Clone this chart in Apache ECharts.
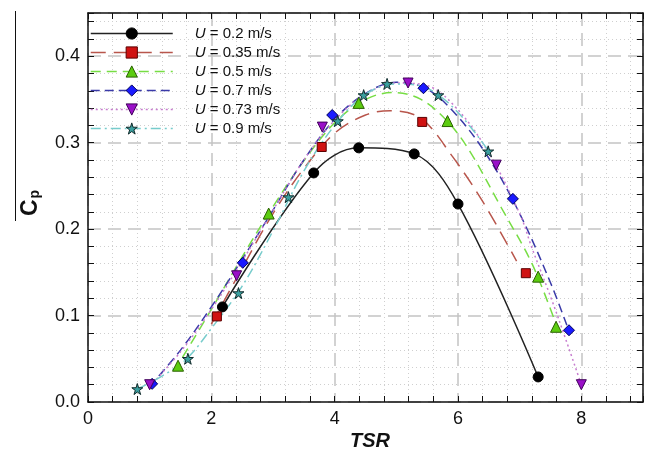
<!DOCTYPE html>
<html>
<head>
<meta charset="utf-8">
<script src="https://cdn.jsdelivr.net/npm/echarts@6/dist/echarts.min.js"></script>
<style>html,body{margin:0;padding:0;background:#fff;}#c{width:649px;height:452px;}</style>
</head>
<body>
<div id="c"></div>
<script>
// ---- Data ----
const seriesNames = ['U = 0.2 m/s', 'U = 0.35 m/s', 'U = 0.5 m/s', 'U = 0.7 m/s', 'U = 0.73 m/s', 'U = 0.9 m/s'];
const xTickLabels = ['0', '2', '4', '6', '8'];
const yTickLabels = ['0.0', '0.1', '0.2', '0.3', '0.4'];

// measured points (markers)
const tsr02 = [2.18, 3.66, 4.39, 5.29, 6.0, 7.3];
const cp02  = [0.110, 0.265, 0.294, 0.287, 0.229, 0.029];
const tsr035 = [2.09, 3.79, 5.42, 7.1];
const cp035  = [0.099, 0.295, 0.324, 0.149];
const tsr05 = [1.46, 2.93, 4.39, 5.83, 7.3, 7.59];
const cp05  = [0.042, 0.218, 0.346, 0.325, 0.145, 0.087];
const tsr07 = [1.04, 2.51, 3.96, 5.44, 6.89, 7.8];
const cp07  = [0.021, 0.161, 0.332, 0.363, 0.235, 0.083];
const tsr073 = [1.0, 2.41, 3.80, 5.19, 6.62, 8.0];
const cp073  = [0.020, 0.146, 0.318, 0.369, 0.274, 0.020];
const tsr09 = [0.8, 1.62, 2.44, 3.25, 4.05, 4.47, 4.85, 5.68, 6.49];
const cp09  = [0.015, 0.050, 0.126, 0.237, 0.325, 0.355, 0.368, 0.355, 0.290];

// fitted curves
const fitX035 = [2.0, 2.5, 3.0, 3.5, 4.0, 4.5, 4.9, 5.4, 5.9, 6.4, 6.95];
const fitY035 = [0.090, 0.155, 0.218, 0.270, 0.311, 0.332, 0.337, 0.328, 0.285, 0.232, 0.163];
const fitX05 = [1.4, 2.0, 2.5, 3.0, 3.5, 4.0, 4.5, 4.95, 5.4, 5.85, 6.2, 6.7, 7.2, 7.6];
const fitY05 = [0.036, 0.107, 0.168, 0.226, 0.279, 0.323, 0.350, 0.358, 0.350, 0.323, 0.289, 0.225, 0.160, 0.088];
const fitX07 = [1.0, 1.5, 2.0, 2.5, 3.0, 3.5, 4.0, 4.5, 5.0, 5.5, 6.0, 6.5, 7.0, 7.5, 7.8];
const fitY07 = [0.018, 0.060, 0.110, 0.165, 0.222, 0.280, 0.327, 0.357, 0.370, 0.362, 0.330, 0.282, 0.218, 0.138, 0.082];
const fitX073 = [1.0, 1.5, 2.0, 2.5, 3.0, 3.5, 4.0, 4.5, 5.0, 5.5, 6.0, 6.5, 7.0, 7.2, 7.5, 7.75, 8.0];
const fitY073 = [0.018, 0.058, 0.107, 0.163, 0.222, 0.280, 0.326, 0.356, 0.369, 0.366, 0.338, 0.288, 0.218, 0.178, 0.122, 0.072, 0.020];
const fitX09 = [0.8, 1.2, 1.6, 2.0, 2.5, 3.0, 3.5, 4.0, 4.5, 5.0, 5.5, 6.0, 6.5];
const fitY09 = [0.015, 0.030, 0.050, 0.085, 0.134, 0.198, 0.267, 0.320, 0.356, 0.368, 0.363, 0.335, 0.290];

// ---- styles ----
const STAR = 'path://M50,0 L61,35 L98,35 L68,57 L79,91 L50,70 L21,91 L32,57 L2,35 L39,35 Z';
const TRI_DOWN = 'path://M0,0 L10,0 L5,10 Z';
const styles = [
  {line: '#222222', type: 'solid', fill: '#000000', border: '#000000', symbol: 'circle', size: 10},
  {line: '#b8564c', type: [15, 8], fill: '#d01212', border: '#5a0000', symbol: 'rect', size: 9},
  {line: '#77dd44', type: [10, 6], fill: '#5ccc10', border: '#2a6000', symbol: 'triangle', size: 11},
  {line: '#3a3aa8', type: [9, 5], fill: '#1a1aff', border: '#00005a', symbol: 'diamond', size: 11},
  {line: '#c77ccf', type: [2, 3], fill: '#9a10c8', border: '#40005a', symbol: TRI_DOWN, size: 10},
  {line: '#77cccc', type: [10, 4, 2, 4], fill: '#3aa0a0', border: '#102a2a', symbol: STAR, size: 11}
];
const markerX = [tsr02, tsr035, tsr05, tsr07, tsr073, tsr09];
const markerY = [cp02, cp035, cp05, cp07, cp073, cp09];
const curveX = [tsr02, fitX035, fitX05, fitX07, fitX073, fitX09];
const curveY = [cp02, fitY035, fitY05, fitY07, fitY073, fitY09];

const zip = (a, b) => a.map((v, i) => [v, b[i]]);

const series = [];
seriesNames.forEach((name, i) => {
  const s = styles[i];
  series.push({
    name: name, type: 'line', smooth: 0.35, showSymbol: false, symbol: s.symbol,
    data: zip(curveX[i], curveY[i]), z: 2,
    lineStyle: {color: s.line, width: 1.5, type: s.type},
    itemStyle: {color: s.fill, borderColor: s.border, borderWidth: 1},
    emphasis: {disabled: true}, silent: true
  });
});
seriesNames.forEach((name, i) => {
  const s = styles[i];
  series.push({
    name: name, type: 'scatter', symbol: s.symbol, symbolSize: s.size,
    data: zip(markerX[i], markerY[i]), z: 5,
    itemStyle: {color: s.fill, borderColor: s.border, borderWidth: 1, opacity: 1},
    emphasis: {disabled: true}, silent: true
  });
});

const FONT = 'Liberation Sans, Arial, Helvetica, sans-serif';
const majorSplit = {show: true, lineStyle: {color: '#c4c4c4', width: 1.5, type: [13, 7]}};
const minorSplit = {show: true, lineStyle: {color: '#cfcfcf', width: 1, type: [1, 3]}};

const chart = echarts.init(document.getElementById('c'), null, {renderer: 'canvas'});
chart.setOption({
  animation: false,
  backgroundColor: '#ffffff',
  grid: {left: 88, right: 6, top: 13, bottom: 50, containLabel: false},
  legend: {
    orient: 'vertical', left: 90, top: 26, padding: 0,
    itemWidth: 82, itemHeight: 14, itemGap: 4,
    selectedMode: false,
    textStyle: {fontFamily: FONT, fontSize: 15, color: '#111', lineHeight: 14, padding: [0, 0, 0, 17],
      rich: {i: {fontStyle: 'italic', fontFamily: FONT, fontSize: 15, color: '#111', lineHeight: 14},
             t: {fontFamily: FONT, fontSize: 15, color: '#111', lineHeight: 14}}},
    formatter: function (n) { return '{i|U}{t|' + n.slice(1) + '}'; },
    data: seriesNames.map((n, i) => ({
      name: n,
      itemStyle: {color: styles[i].fill, borderColor: styles[i].border, borderWidth: 1},
      lineStyle: {color: styles[i].line, width: 1.5, type: styles[i].type}
    }))
  },
  xAxis: [{
    type: 'value', min: 0, max: 9, interval: 2, position: 'bottom',
    axisLine: {show: true, onZero: false, lineStyle: {color: '#111', width: 1.5}},
    axisTick: {show: true, inside: true, length: 6, lineStyle: {color: '#111'}},
    minorTick: {show: true, splitNumber: 5, length: 6, lineStyle: {color: '#111'}},
    splitLine: majorSplit, minorSplitLine: minorSplit,
    axisLabel: {show: true, showMaxLabel: false, margin: 8, fontSize: 18, fontFamily: FONT, color: '#111',
      formatter: function (v) { const k = xTickLabels.indexOf(String(v)); return k >= 0 ? xTickLabels[k] : ''; }}
  }, {
    type: 'value', min: 0, max: 9, interval: 2, position: 'top',
    axisLine: {show: true, onZero: false, lineStyle: {color: '#111', width: 1.5}},
    axisTick: {show: true, inside: true, length: 6, lineStyle: {color: '#111'}},
    minorTick: {show: true, splitNumber: 5, length: 6, lineStyle: {color: '#111'}},
    splitLine: {show: false}, axisLabel: {show: false}
  }],
  yAxis: [{
    type: 'value', min: 0, max: 0.45, interval: 0.1, position: 'left',
    axisLine: {show: true, onZero: false, lineStyle: {color: '#111', width: 1.5}},
    axisTick: {show: true, inside: true, length: 6, lineStyle: {color: '#111'}},
    minorTick: {show: true, splitNumber: 5, length: 6, lineStyle: {color: '#111'}},
    splitLine: majorSplit, minorSplitLine: minorSplit,
    axisLabel: {show: true, showMaxLabel: false, margin: 8, fontSize: 18, fontFamily: FONT, color: '#111',
      formatter: function (v) { const k = Math.round(v * 10); return (k >= 0 && k < yTickLabels.length && Math.abs(v * 10 - k) < 1e-6) ? yTickLabels[k] : ''; }}
  }, {
    type: 'value', min: 0, max: 0.45, interval: 0.1, position: 'right',
    axisLine: {show: true, onZero: false, lineStyle: {color: '#111', width: 1.5}},
    axisTick: {show: true, inside: true, length: 6, lineStyle: {color: '#111'}},
    minorTick: {show: true, splitNumber: 5, length: 6, lineStyle: {color: '#111'}},
    splitLine: {show: false}, axisLabel: {show: false}
  }],
  graphic: [
    {type: 'line', shape: {x1: 15.5, y1: 11, x2: 15.5, y2: 221}, style: {stroke: '#111', lineWidth: 1}, silent: true},
    {type: 'text', x: 31, y: 203, rotation: Math.PI / 2, silent: true,
      style: {text: '{c|C}{p|p}', align: 'center', verticalAlign: 'middle',
        rich: {c: {fontFamily: FONT, fontSize: 23, fontWeight: 'bold', fill: '#111', color: '#111', verticalAlign: 'bottom'},
               p: {fontFamily: FONT, fontSize: 14, fontWeight: 'bold', fill: '#111', color: '#111', verticalAlign: 'bottom', padding: [8, 0, 0, 1]}}}},
    {type: 'text', x: 370, y: 441, silent: true,
      style: {text: 'TSR', align: 'center', verticalAlign: 'middle', fontFamily: FONT, fontSize: 20,
        fontWeight: 'bold', fontStyle: 'italic', fill: '#111'}}
  ],
  series: series
});
</script>
</body>
</html>
